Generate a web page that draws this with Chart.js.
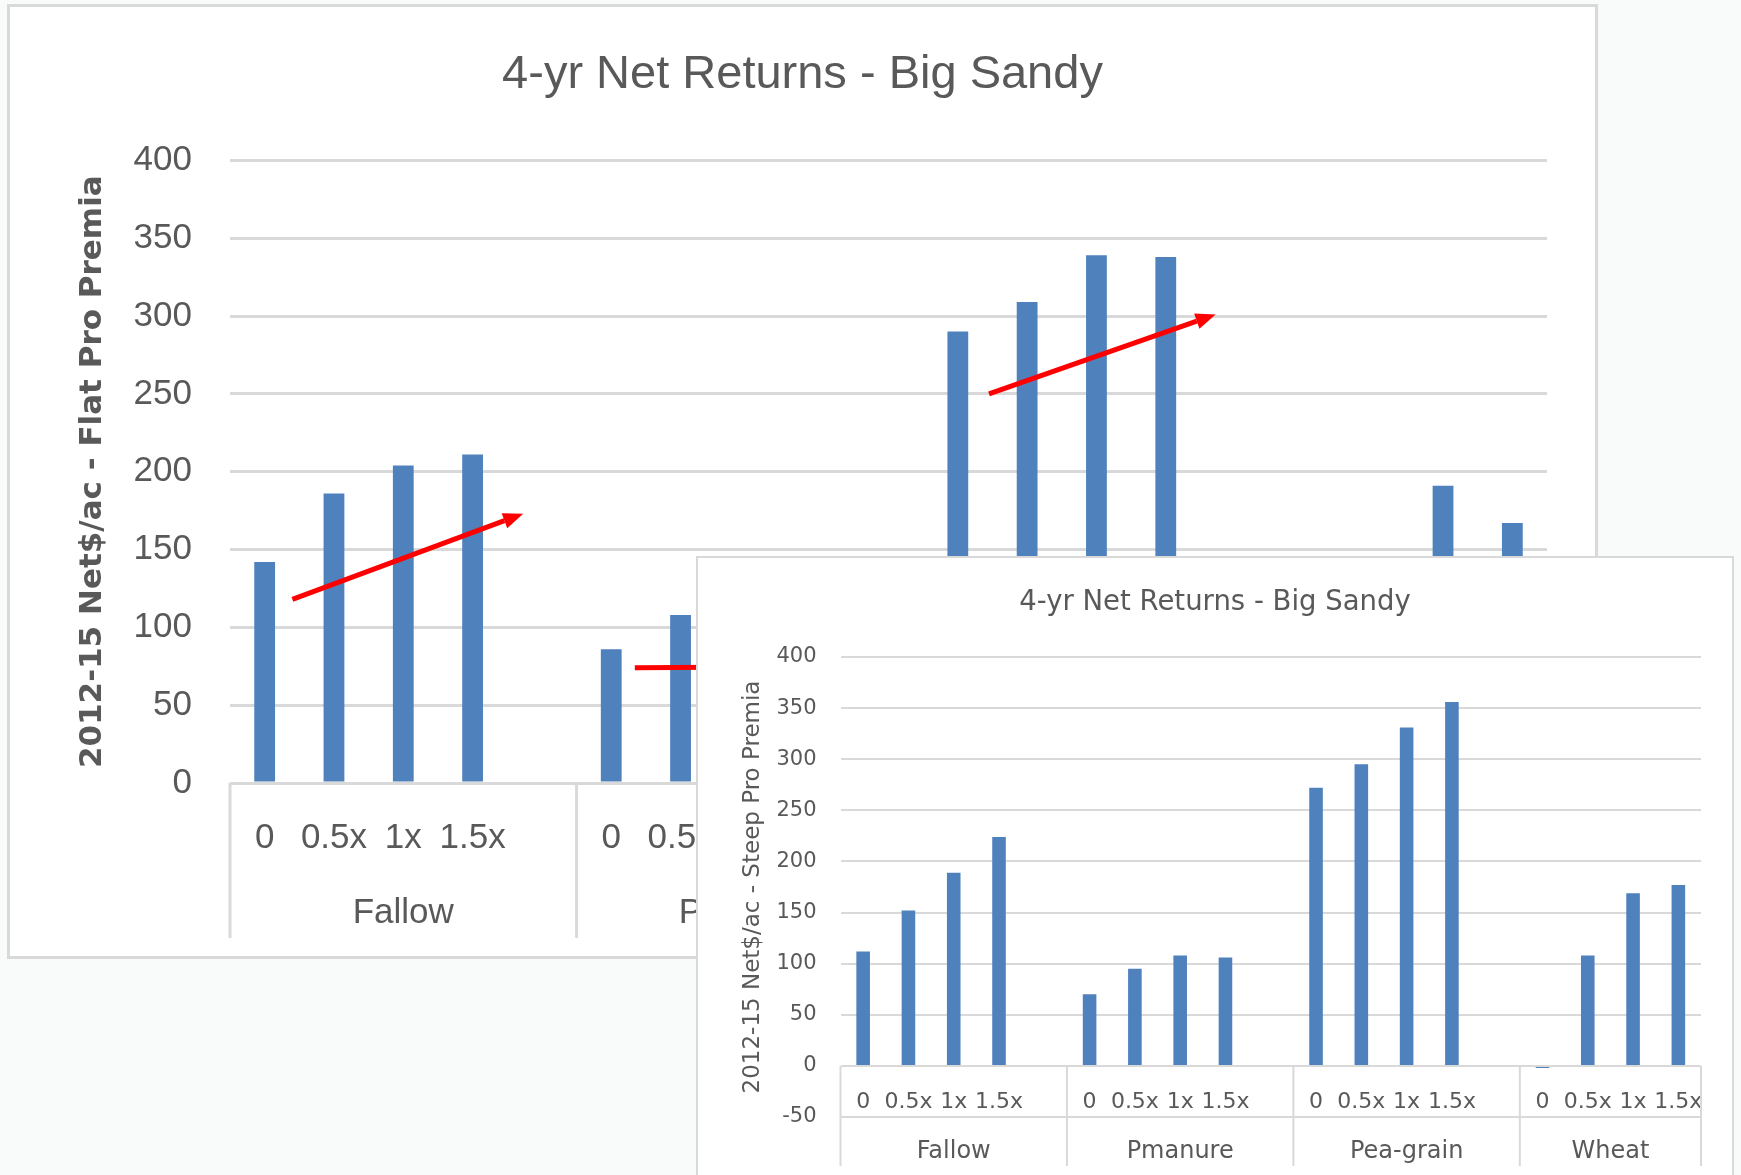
<!DOCTYPE html>
<html>
<head>
<meta charset="utf-8">
<script src="https://cdn.jsdelivr.net/npm/chart.js@4.4.1/dist/chart.umd.min.js"></script>
<style>
  html, body { margin: 0; padding: 0; width: 1741px; height: 1175px; overflow: hidden; background: #f9fbfb; }
  .box { position: absolute; background: #fff; border: 3px solid #d9d9d9; }
  #back-box { left: 7px; top: 4px; width: 1585px; height: 949px; }
  #front-box { left: 696px; top: 556px; width: 1034px; height: 640px; border-width: 2px; }
  canvas { display: block; }
</style>
</head>
<body>
<div class="box" id="back-box"><canvas id="flat-chart" width="1585" height="949"></canvas></div>
<div class="box" id="front-box"><canvas id="steep-chart" width="1034" height="640"></canvas></div>
<script>
const groups = ['Fallow', 'Pmanure', 'Pea-grain', 'Wheat'];
const rates = ['0', '0.5x', '1x', '1.5x'];

// one empty slot after each group (blank rows in the sheet)
const flatPremia  = [142, 186, 204, 211, null, 86, 108, 118, 115, null, 290, 309, 339, 338, null, 12, 124, 191, 167];
const steepPremia = [112, 152, 189, 224, null, 70, 95, 108, 106, null, 272, 295, 331, 356, null, -2, 108, 169, 177];

const flatTicks  = [0, 50, 100, 150, 200, 250, 300, 350, 400];
const steepTicks = [-50, 0, 50, 100, 150, 200, 250, 300, 350, 400];

// red trend arrows drawn on the flat chart, [slot, value] -> [slot, value]
const trendArrows = [
    [[0.4, 118], [3.73, 173]],
    [[5.34, 74], [8.6, 75]],
    [[10.45, 250], [13.72, 301]]
];

const labels = [];
groups.forEach((g, i) => {
    rates.forEach(r => labels.push(r));
    if (i < groups.length - 1) labels.push('');
});

const GRID = '#d9d9d9';
const TEXT = '#595959';
const BLUE = '#4f81bd';
Chart.defaults.color = TEXT;

// second level of the category axis: separators + group names
const groupAxis = {
    id: 'groupAxis',
    afterDraw(chart, args, opts) {
        const {ctx, scales: {x, y}} = chart;
        const slot = x.getPixelForValue(1) - x.getPixelForValue(0);
        const top = y.getPixelForValue(0);
        ctx.save();
        ctx.strokeStyle = GRID;
        ctx.lineWidth = opts.lineWidth;
        ctx.fillStyle = TEXT;
        ctx.font = opts.font;
        ctx.textAlign = 'center';
        ctx.textBaseline = 'middle';
        const line = px => {
            ctx.beginPath();
            ctx.moveTo(px, top);
            ctx.lineTo(px, opts.bottom);
            ctx.stroke();
        };
        let start = x.left;
        groups.forEach((g, i) => {
            const end = i < groups.length - 1 ? x.getPixelForValue(i * 5 + 4) + slot / 2 : x.right;
            line(start);
            ctx.fillText(g, (start + end) / 2, opts.labelY);
            start = end;
        });
        line(start);
        ctx.restore();
    }
};

const arrowPlugin = {
    id: 'trendArrows',
    afterDatasetsDraw(chart) {
        const {ctx, scales: {x, y}} = chart;
        ctx.save();
        ctx.strokeStyle = '#ff0000';
        ctx.fillStyle = '#ff0000';
        ctx.lineWidth = 5;
        trendArrows.forEach(([a, b]) => {
            const x1 = x.getPixelForValue(a[0]), y1 = y.getPixelForValue(a[1]);
            const x2 = x.getPixelForValue(b[0]), y2 = y.getPixelForValue(b[1]);
            const ang = Math.atan2(y2 - y1, x2 - x1);
            const head = 20, w = 8;
            const bx = x2 - head * Math.cos(ang), by = y2 - head * Math.sin(ang);
            ctx.beginPath();
            ctx.moveTo(x1, y1);
            ctx.lineTo(bx, by);
            ctx.stroke();
            ctx.beginPath();
            ctx.moveTo(x2, y2);
            ctx.lineTo(bx + w * Math.sin(ang), by - w * Math.cos(ang));
            ctx.lineTo(bx - w * Math.sin(ang), by + w * Math.cos(ang));
            ctx.closePath();
            ctx.fill();
        });
        ctx.restore();
    }
};

const flatChart = new Chart(document.querySelector('#flat-chart'), {
    type: 'bar',
    data: {
        labels: labels,
        datasets: [{
            data: flatPremia,
            backgroundColor: BLUE,
            barPercentage: 0.3,
            categoryPercentage: 1
        }]
    },
    options: {
        responsive: false,
        animation: false,
        // equal side padding keeps the title centred on the box
        layout: { padding: { left: 48, right: 48, top: 0, bottom: 0 } },
        plugins: {
            legend: { display: false },
            tooltip: { enabled: false },
            title: {
                display: true,
                text: '4-yr Net Returns - Big Sandy',
                color: TEXT,
                font: { family: 'Liberation Sans', size: 47, weight: 'normal' },
                padding: { top: 40, bottom: 57 }
            },
            groupAxis: { font: '35px "Liberation Sans"', labelY: 906, bottom: 931, lineWidth: 3 }
        },
        scales: {
            x: {
                grid: { display: false },
                border: { display: false },
                ticks: {
                    autoSkip: false, maxRotation: 0, minRotation: 0, padding: 26,
                    font: { family: 'Liberation Sans', size: 35 }
                },
                afterFit: s => { s.height = 173; }
            },
            y: {
                min: flatTicks[0],
                max: flatTicks[flatTicks.length - 1],
                grid: { color: GRID, lineWidth: 3, drawTicks: false },
                border: { display: false },
                ticks: {
                    stepSize: flatTicks[1] - flatTicks[0], padding: 38,
                    font: { family: 'Liberation Sans', size: 35 }
                },
                title: {
                    display: true,
                    text: '2012-15 Net$/ac - Flat Pro Premia',
                    color: TEXT,
                    font: { family: 'DejaVu Sans', size: 31, weight: 'bold' },
                    padding: { top: 16, bottom: 0 }
                },
                afterFit: s => { s.width = 172; }
            }
        }
    },
    plugins: [groupAxis, arrowPlugin]
});

const steepChart = new Chart(document.querySelector('#steep-chart'), {
    type: 'bar',
    data: {
        labels: labels,
        datasets: [{
            data: steepPremia,
            backgroundColor: BLUE,
            barPercentage: 0.3,
            categoryPercentage: 1
        }]
    },
    options: {
        responsive: false,
        animation: false,
        // x axis sits on the zero line, so the space under the plot is plain padding
        layout: { padding: { left: 31, right: 31, top: 0, bottom: 81 } },
        plugins: {
            legend: { display: false },
            tooltip: { enabled: false },
            title: {
                display: true,
                text: '4-yr Net Returns - Big Sandy',
                color: TEXT,
                font: { family: 'DejaVu Sans', size: 27.5, weight: 'normal' },
                padding: { top: 28, bottom: 38 }
            },
            groupAxis: { font: '24px "DejaVu Sans"', labelY: 594, bottom: 608, lineWidth: 2 }
        },
        scales: {
            x: {
                position: { y: 0 },
                grid: { display: false },
                border: { display: false },
                ticks: {
                    autoSkip: false, maxRotation: 0, minRotation: 0, padding: 15,
                    font: { family: 'DejaVu Sans', size: 22 }
                }
            },
            y: {
                min: steepTicks[0],
                max: steepTicks[steepTicks.length - 1],
                grid: { color: GRID, lineWidth: 2, drawTicks: false },
                border: { display: false },
                ticks: {
                    stepSize: steepTicks[1] - steepTicks[0], padding: 24,
                    font: { family: 'DejaVu Sans', size: 21 }
                },
                title: {
                    display: true,
                    text: '2012-15 Net$/ac - Steep Pro Premia',
                    color: TEXT,
                    font: { family: 'DejaVu Sans', size: 23, weight: 'normal' },
                    padding: { top: 10, bottom: 0 }
                },
                afterFit: s => { s.width = 111.5; }
            }
        }
    },
    plugins: [groupAxis]
});
</script>
</body>
</html>
